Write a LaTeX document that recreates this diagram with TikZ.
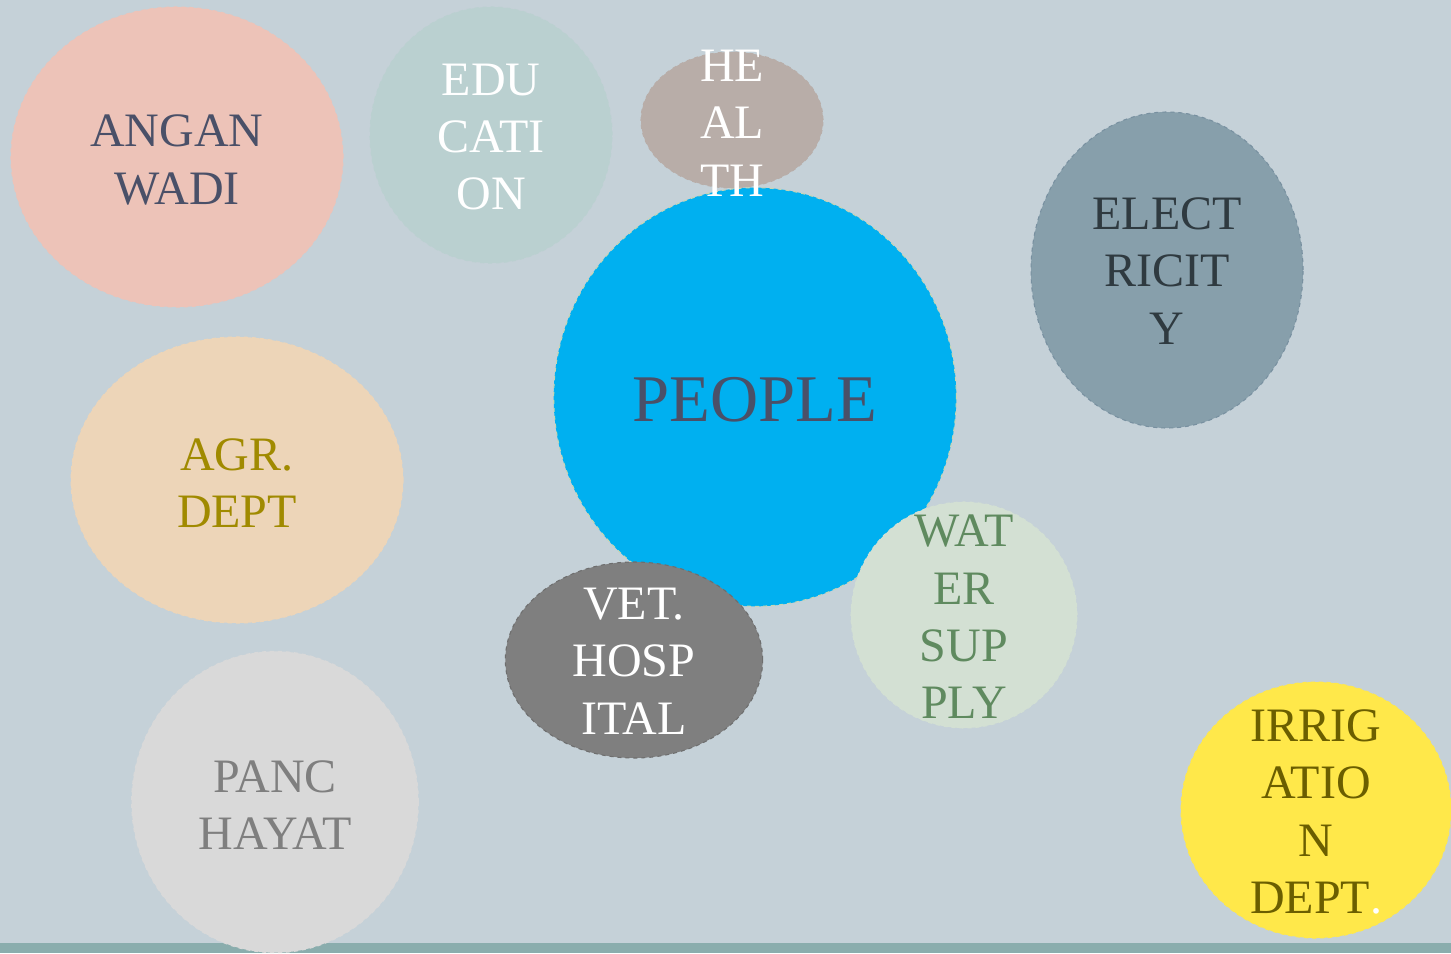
\documentclass[tikz,border=0pt]{standalone}
\usepackage{fontspec}
\setmainfont{Liberation Serif}
\usetikzlibrary{shapes.geometric}
\definecolor{bgc}{HTML}{C5D1D8}
\definecolor{stripc}{HTML}{8AADAD}
\definecolor{anganc}{HTML}{EDC3B8}
\definecolor{educ}{HTML}{BAD0D0}
\definecolor{healthc}{HTML}{B8ADA8}
\definecolor{peoplec}{HTML}{00B0F0}
\definecolor{peopleb}{HTML}{C8D6B4}
\definecolor{elecc}{HTML}{879FAB}
\definecolor{elecb}{HTML}{7890A0}
\definecolor{agrc}{HTML}{EDD5B8}
\definecolor{vetc}{HTML}{7F7F7F}
\definecolor{vetb}{HTML}{6E6E6E}
\definecolor{waterc}{HTML}{D3E0D3}
\definecolor{panchc}{HTML}{D9D9D9}
\definecolor{irrigc}{HTML}{FFE84A}
\definecolor{slatet}{HTML}{4A5068}
\definecolor{elect}{HTML}{2F3A40}
\definecolor{agrt}{HTML}{A08A00}
\definecolor{watert}{HTML}{5F8A5F}
\definecolor{pancht}{HTML}{7F7F7F}
\definecolor{irrigt}{HTML}{6B5E00}
\tikzset{
  bubble/.style={ellipse, inner sep=0pt, line width=0.8pt, dashed},
  lbl/.style={align=center, inner sep=0pt, font=\fontsize{36}{43}\selectfont},
}
\begin{document}
\begin{tikzpicture}[x=0.75pt, y=-0.75pt]
\useasboundingbox (0,0) rectangle (1451,953);
\fill[bgc] (0,0) rectangle (1451,953);
\fill[stripc] (0,943) rectangle (1451,953);
% bubbles
\node[bubble, fill=anganc, draw=anganc, minimum width=249pt, minimum height=225pt] (angan) at (177,157) {};
\node[bubble, fill=educ, draw=educ, minimum width=181.5pt, minimum height=192pt] (edu) at (491,135) {};
\node[bubble, fill=healthc, draw=healthc, minimum width=136.5pt, minimum height=102pt] (health) at (732,120) {};
\node[bubble, fill=peoplec, draw=peopleb, minimum width=302pt, minimum height=314pt] (people) at (755,397) {};
\node[bubble, fill=elecc, draw=elecb, minimum width=204pt, minimum height=237pt] (elec) at (1167,270) {};
\node[bubble, fill=agrc, draw=agrc, minimum width=249pt, minimum height=214.5pt] (agr) at (237,480) {};
\node[bubble, fill=vetc, draw=vetb, minimum width=193pt, minimum height=147pt] (vet) at (634,660) {};
\node[bubble, fill=waterc, draw=waterc, minimum width=169.5pt, minimum height=169.5pt] (water) at (964,615) {};
\node[bubble, fill=panchc, draw=panchc, minimum width=215pt, minimum height=226pt] (panch) at (275,802) {};
\node[bubble, fill=irrigc, draw=irrigc, minimum width=202.5pt, minimum height=192pt] (irrig) at (1316,810) {};
% labels
\node[lbl, text=slatet] (tangan) at (177,160) {ANGAN\\WADI};
\node[lbl, text=white] (tedu) at (491,137) {EDU\\CATI\\ON};
\node[lbl, text=white] (thealth) at (732,123) {HE\\AL\\TH};
\node[lbl, text=slatet, font=\fontsize{50}{60}\selectfont] (tpeople) at (755,400) {PEOPLE};
\node[lbl, text=elect] (telec) at (1167,271) {ELECT\\RICIT\\Y};
\node[lbl, text=agrt] (tagr) at (237,483) {AGR.\\DEPT};
\node[lbl, text=white] (tvet) at (634,661) {VET.\\HOSP\\ITAL};
\node[lbl, text=watert] (twater) at (964,617) {WAT\\ER\\SUP\\PLY};
\node[lbl, text=pancht] (tpanch) at (275,805) {PANC\\HAYAT};
\node[lbl, text=irrigt] (tirrig) at (1316,812) {IRRIG\\ATIO\\N\\DEPT\textcolor{white}{.}};
\end{tikzpicture}
\end{document}
